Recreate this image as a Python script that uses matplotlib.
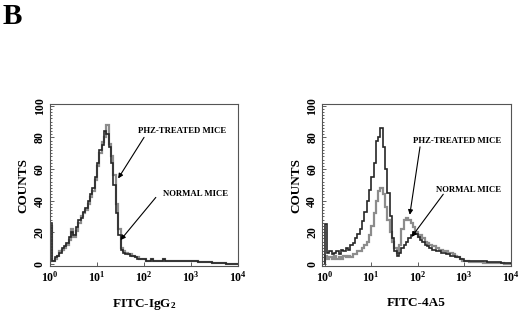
# Flow cytometry histograms, panel B: FITC-IgG2 control vs FITC-4A5
import numpy as np
import matplotlib.pyplot as plt
from matplotlib.ticker import FixedLocator, LogLocator, MultipleLocator, NullFormatter

plt.rcParams['font.family'] = ['Liberation Serif', 'DejaVu Serif']
plt.rcParams['font.weight'] = 'bold'
plt.rcParams['mathtext.fontset'] = 'custom'
plt.rcParams['mathtext.rm'] = 'Liberation Serif:bold'
plt.rcParams['mathtext.it'] = 'Liberation Serif:bold'
plt.rcParams['mathtext.bf'] = 'Liberation Serif:bold'

# log10 channel bins, 0.05 decade wide, 10^0 .. 10^4
log_edges = np.arange(0, 4.001, 0.05)

# --- left panel (FITC-IgG2) ---
igg_normal = [26, 2, 4, 5, 7, 10, 11, 13, 17, 20,
              18, 23, 28, 29, 33, 35, 40, 44, 48, 55,
              64, 72, 75, 84, 82, 74, 64, 50, 32, 18,
              9, 7, 6, 6, 5, 5, 4, 3, 3, 3,
              3, 2, 2, 3, 2, 2, 2, 2, 3, 2,
              2, 2, 2, 2, 1.5, 1.5, 2, 1.5, 1.5, 1.5,
              1.5, 1.5, 1.5, 1, 1, 1, 1, 1, 1, 0.5,
              0.5, 0.5, 0.5, 0.5, 0.5, 0, 0, 0, 0, 0]
igg_phz = [24, 2, 3, 5, 8, 9, 10, 12, 15, 22,
           17, 21, 26, 30, 32, 34, 38, 42, 46, 53,
           62, 70, 77, 80, 88, 76, 68, 56, 38, 22,
           10, 8, 7, 6, 6, 5, 4, 4, 3, 3,
           3, 2, 2, 3, 2, 2, 2, 2, 3, 2,
           2, 2, 2, 2, 1.5, 1.5, 2, 1.5, 1.5, 1.5,
           1.5, 1.5, 1.5, 1, 1, 1, 1, 1, 1, 0.5,
           0.5, 0.5, 0.5, 0.5, 0.5, 0, 0, 0, 0, 0]

# --- right panel (FITC-4A5) ---
a45_normal = [25, 7, 8, 6, 7, 8, 6, 9, 8, 10,
              9, 12, 13, 16, 19, 22, 27, 33, 40, 47,
              55, 64, 78, 80, 86, 74, 60, 45, 30, 16,
              8, 5, 7, 10, 12, 14, 16, 18, 20, 19,
              17, 15, 14, 12, 11, 10, 9, 9, 8, 8,
              7, 7, 6, 6, 5, 5, 4, 4, 3, 3,
              2, 2, 2, 2, 2, 2, 1.5, 1.5, 1.5, 1.5,
              1, 1, 1, 1, 1, 1, 0.5, 0.5, 0.5, 0.5]
a45_phz = [5, 3, 4, 3, 5, 3, 4, 3, 5, 4,
           5, 4, 6, 6, 8, 8, 10, 12, 14, 18,
           24, 32, 40, 46, 48, 44, 36, 28, 20, 14,
           10, 7, 12, 22, 28, 29, 28, 26, 23, 20,
           17, 18, 16, 14, 13, 12, 11, 11, 10, 9,
           9, 8, 8, 7, 7, 6, 5, 4, 3, 2,
           1.5, 1.5, 1, 1, 1, 1, 1, 1, 0.5, 0.5,
           0.5, 0.5, 0.5, 0.5, 0.5, 0.5, 0.5, 0, 0, 0]

decades = [1, 10, 100, 1000, 10000]
decade_labels = [r'$10^{0}$', r'$10^{1}$', r'$10^{2}$', r'$10^{3}$', r'$10^{4}$']
y_ticks = [0, 20, 40, 60, 80, 100]

edges = 10 ** log_edges
dark = '#262626'
gray = '#8c8c8c'

fig = plt.figure(figsize=(5.2, 3.12), dpi=100)
fig.text(0.004, 0.99, 'B', fontsize=21, fontweight='bold', va='top', ha='left')

ax1 = fig.add_axes([0.096, 0.147, 0.362, 0.519])
ax2 = fig.add_axes([0.620, 0.147, 0.362, 0.519])


def style(ax, xlabel, xmin):
    ax.set_xscale('log')
    ax.set_xlim(xmin, 1e4)
    ax.set_ylim(-1.5, 101)
    ax.xaxis.set_major_locator(FixedLocator(decades))
    ax.set_xticklabels(decade_labels, fontsize=8.5)
    ax.xaxis.set_minor_locator(LogLocator(base=10, subs=np.arange(2, 10)))
    ax.xaxis.set_minor_formatter(NullFormatter())
    ax.set_yticks(y_ticks)
    ax.set_yticklabels([str(v) for v in y_ticks], fontsize=8.5, rotation=90, va='center')
    ax.yaxis.set_minor_locator(MultipleLocator(2))
    ax.tick_params(which='both', direction='in', color='#444444', width=0.6)
    ax.tick_params(which='major', length=3, pad=3)
    ax.tick_params(which='minor', length=1.5)
    for s in ax.spines.values():
        s.set_color('#555555')
        s.set_linewidth(0.8)
    ax.set_ylabel('COUNTS', fontsize=9.5, fontweight='bold', labelpad=3)
    ax.set_xlabel(xlabel, fontsize=9.5, fontweight='bold', labelpad=9)


ax1.stairs(igg_phz, edges, color=gray, linewidth=1.6)
ax1.stairs(igg_normal, edges, color=dark, linewidth=1.2)
style(ax1, r'FITC-IgG$_{2}$', 1)

ax2.stairs(a45_phz, edges, color=gray, linewidth=1.6)
ax2.stairs(a45_normal, edges, color=dark, linewidth=1.2)
style(ax2, 'FITC-4A5', 10 ** -0.05)

arrow = dict(arrowstyle='-|>', color='black', lw=0.8, mutation_scale=7, shrinkA=0, shrinkB=0)
ann = dict(fontsize=6.3, fontweight='bold', ha='left', va='center')

# left panel labels and arrows
ax1.text(10 ** 1.87, 84, 'PHZ-TREATED MICE', **ann)
ax1.annotate('', xy=(10 ** 1.45, 54), xytext=(10 ** 2.0, 80), arrowprops=arrow)
ax1.text(10 ** 2.4, 44, 'NORMAL MICE', **ann)
ax1.annotate('', xy=(10 ** 1.5, 15), xytext=(10 ** 2.25, 42), arrowprops=arrow)

# right panel labels and arrows
ax2.text(10 ** 1.9, 78, 'PHZ-TREATED MICE', **ann)
ax2.annotate('', xy=(10 ** 1.83, 31), xytext=(10 ** 2.05, 74), arrowprops=arrow)
ax2.text(10 ** 2.4, 47, 'NORMAL MICE', **ann)
ax2.annotate('', xy=(10 ** 1.87, 17), xytext=(10 ** 2.55, 44), arrowprops=arrow)

fig.savefig('out.png', dpi=100)
